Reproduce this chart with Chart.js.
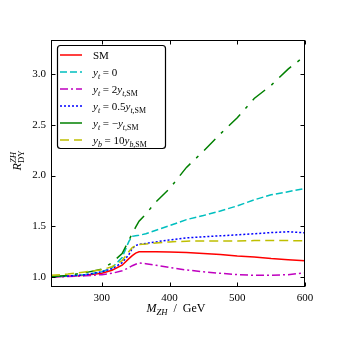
<!doctype html>
<html lang="en">
<head>
    <meta charset="UTF-8">
    <script src="https://cdn.jsdelivr.net/npm/chart.js@4.4.1/dist/chart.umd.min.js"></script>
    <title>R_DY^ZH versus M_ZH</title>
    <style>
        html, body { margin: 0; padding: 0; background: #fff; }
        #canvas { display: block; }
    </style>
</head>
<body>
<canvas id="canvas" width="339" height="339"></canvas>
<script>
    // Invariant mass grid (GeV)
    const masses = [225, 250, 275, 300, 315, 330, 340, 345, 350, 355, 365, 380, 400, 425, 450, 475, 500, 525, 550, 575, 600];

    // Ratio R_DY^ZH for each coupling scenario
    const smRatio     = [1.000, 1.005, 1.015, 1.035, 1.065, 1.115, 1.180, 1.210, 1.235, 1.248, 1.248, 1.247, 1.245, 1.240, 1.230, 1.220, 1.205, 1.195, 1.180, 1.170, 1.158];
    const ytZero      = [1.000, 1.008, 1.020, 1.050, 1.090, 1.190, 1.350, 1.400, 1.405, 1.410, 1.425, 1.460, 1.505, 1.565, 1.605, 1.650, 1.700, 1.760, 1.810, 1.840, 1.873];
    const ytDouble    = [1.000, 1.003, 1.010, 1.022, 1.035, 1.060, 1.090, 1.110, 1.125, 1.138, 1.130, 1.115, 1.092, 1.068, 1.050, 1.035, 1.022, 1.016, 1.015, 1.022, 1.040];
    const ytHalf      = [1.000, 1.008, 1.020, 1.050, 1.080, 1.140, 1.220, 1.280, 1.310, 1.320, 1.330, 1.345, 1.365, 1.385, 1.395, 1.405, 1.415, 1.425, 1.437, 1.445, 1.435];
    const ytFlip      = [1.000, 1.015, 1.040, 1.075, 1.140, 1.230, 1.360, 1.430, 1.490, 1.550, 1.620, 1.740, 1.870, 2.080, 2.240, 2.410, 2.570, 2.760, 2.890, 3.050, 3.180];
    const ybTen       = [1.015, 1.028, 1.048, 1.070, 1.100, 1.160, 1.250, 1.290, 1.310, 1.320, 1.325, 1.335, 1.345, 1.352, 1.355, 1.355, 1.355, 1.358, 1.360, 1.358, 1.355];

    const xTicks = [300, 400, 500, 600];
    const yTicks = [1.0, 1.5, 2.0, 2.5, 3.0];

    // Legend labels as rich text pieces: i = italic, sub/sup = index
    const labels = [
        [{t: "SM"}],
        [{t: "y", i: 1}, {t: "t", i: 1, sub: 1}, {t: " = 0"}],
        [{t: "y", i: 1}, {t: "t", i: 1, sub: 1}, {t: " = 2"}, {t: "y", i: 1}, {t: "t", i: 1, sub: 1}, {t: ",SM", sub: 1}],
        [{t: "y", i: 1}, {t: "t", i: 1, sub: 1}, {t: " = 0.5"}, {t: "y", i: 1}, {t: "t", i: 1, sub: 1}, {t: ",SM", sub: 1}],
        [{t: "y", i: 1}, {t: "t", i: 1, sub: 1}, {t: " = \u2212"}, {t: "y", i: 1}, {t: "t", i: 1, sub: 1}, {t: ",SM", sub: 1}],
        [{t: "y", i: 1}, {t: "b", i: 1, sub: 1}, {t: " = 10"}, {t: "y", i: 1}, {t: "b", i: 1, sub: 1}, {t: ",SM", sub: 1}],
    ];
    const xTitle = [{t: "M", i: 1}, {t: "ZH", i: 1, sub: 1}, {t: "  /  GeV"}];
    const yTitle = [{t: "R", i: 1}, {t: "ZH", i: 1, sup: 1, stack: 1}, {t: "DY", sub: 1}];

    const FONT = '"Liberation Serif", serif';

    function pieceFont(p, size) {
        const s = (p.sub || p.sup) ? size * 0.72 : size;
        return (p.i ? "italic " : "") + s + "px " + FONT;
    }

    function richWidth(ctx, parts, size) {
        let w = 0, held = 0;
        parts.forEach((p) => {
            ctx.font = pieceFont(p, size);
            const pw = ctx.measureText(p.t).width;
            if (p.stack) { held = pw; return; }
            w += Math.max(pw, held);
            held = 0;
        });
        return w + held;
    }

    // draws text pieces on the baseline y, starting at x (or centred)
    function drawRich(ctx, parts, x, y, size, centred) {
        let cx = centred ? x - richWidth(ctx, parts, size) / 2 : x;
        let held = 0;
        ctx.textBaseline = "alphabetic";
        ctx.textAlign = "left";
        parts.forEach((p) => {
            ctx.font = pieceFont(p, size);
            let dy = 0;
            if (p.sub) dy = size * 0.25;
            if (p.sup) dy = -size * 0.42;
            ctx.fillText(p.t, cx, y + dy);
            const pw = ctx.measureText(p.t).width;
            if (p.stack) { held = pw; return; }
            cx += Math.max(pw, held);
            held = 0;
        });
    }

    const series = [
        {data: smRatio,  color: "#ff0000", dash: [],            key: []},
        {data: ytZero,   color: "#00bfbf", dash: [7, 3],        key: [7, 3]},
        {data: ytDouble, color: "#bf00bf", dash: [8, 3, 2, 3],  key: [8, 3, 2, 3]},
        {data: ytHalf,   color: "#0000ff", dash: [2, 2],        key: [2, 2]},
        {data: ytFlip,   color: "#008000", dash: [16, 8, 3, 8], key: []},
        {data: ybTen,    color: "#bfbf00", dash: [9, 5],        key: [9, 5]},
    ];

    // frame, inward ticks, axis titles and the boxed legend
    const decorations = {
        id: "decorations",
        afterDraw(chart) {
            const {ctx, chartArea: a, scales: {x, y}} = chart;
            ctx.save();
            ctx.strokeStyle = "#000";
            ctx.lineWidth = 1;
            const L = Math.round(a.left) + 0.5, R = Math.round(a.right) - 0.5;
            const T = Math.round(a.top) + 0.5, B = Math.round(a.bottom) - 0.5;
            ctx.strokeRect(L, T, R - L, B - T);
            ctx.beginPath();
            xTicks.forEach((v) => {
                const px = Math.round(x.getPixelForValue(v)) + 0.5;
                ctx.moveTo(px, B); ctx.lineTo(px, B - 4);
                ctx.moveTo(px, T); ctx.lineTo(px, T + 4);
            });
            yTicks.forEach((v) => {
                const py = Math.round(y.getPixelForValue(v)) + 0.5;
                ctx.moveTo(L, py); ctx.lineTo(L + 4, py);
                ctx.moveTo(R, py); ctx.lineTo(R - 4, py);
            });
            ctx.stroke();

            ctx.fillStyle = "#000";
            drawRich(ctx, xTitle, (a.left + a.right) / 2 - 2, 312, 12, true);
            ctx.save();
            ctx.translate(21, (a.top + a.bottom) / 2 - 3);
            ctx.rotate(-Math.PI / 2);
            drawRich(ctx, yTitle, 0, 0, 12, true);
            ctx.restore();

            // legend
            const bx = a.left + 6, by = a.top + 5, bw = 108, bh = 103;
            ctx.beginPath();
            ctx.roundRect(bx + 0.5, by + 0.5, bw, bh, 3);
            ctx.fillStyle = "#fff";
            ctx.fill();
            ctx.lineWidth = 1.2;
            ctx.strokeStyle = "#000";
            ctx.stroke();
            series.forEach((s, k) => {
                const ry = by + 10 + k * 17;
                ctx.beginPath();
                ctx.setLineDash(s.key);
                ctx.lineWidth = 1.5;
                ctx.strokeStyle = s.color;
                ctx.moveTo(bx + 3, ry);
                ctx.lineTo(bx + 25, ry);
                ctx.stroke();
                ctx.setLineDash([]);
                ctx.fillStyle = "#000";
                drawRich(ctx, labels[k], bx + 36, ry + 4, 11, false);
            });
            ctx.restore();
        }
    };

    new Chart(document.getElementById("canvas").getContext("2d"), {
        type: "line",
        data: {
            datasets: series.map((s, k) => ({
                data: masses.map((m, j) => ({x: m, y: s.data[j]})),
                borderColor: s.color,
                borderDash: s.dash,
                borderWidth: 1.5,
                pointRadius: 0,
                tension: 0,
                fill: false,
                order: series.length - k,
            })),
        },
        options: {
            responsive: false,
            animation: false,
            devicePixelRatio: 1,
            layout: {padding: {top: 40, right: 34, left: 0, bottom: 0}},
            plugins: {legend: {display: false}, tooltip: {enabled: false}},
            scales: {
                x: {
                    type: "linear",
                    min: 225,
                    max: 600,
                    grid: {display: false, drawTicks: false},
                    border: {display: false},
                    afterBuildTicks: (s) => { s.ticks = xTicks.map((v) => ({value: v})); },
                    afterFit: (s) => { s.height = 52; },
                    ticks: {
                        color: "#000",
                        padding: 5,
                        maxRotation: 0,
                        font: {family: FONT, size: 11},
                        callback: (v) => String(v),
                    },
                },
                y: {
                    type: "linear",
                    min: 0.9,
                    max: 3.337,
                    grid: {display: false, drawTicks: false},
                    border: {display: false},
                    afterBuildTicks: (s) => { s.ticks = yTicks.map((v) => ({value: v})); },
                    afterFit: (s) => { s.width = 51; },
                    ticks: {
                        color: "#000",
                        padding: 5,
                        font: {family: FONT, size: 11},
                        callback: (v) => Number(v).toFixed(1),
                    },
                },
            },
        },
        plugins: [decorations],
    });
</script>
</body>
</html>
